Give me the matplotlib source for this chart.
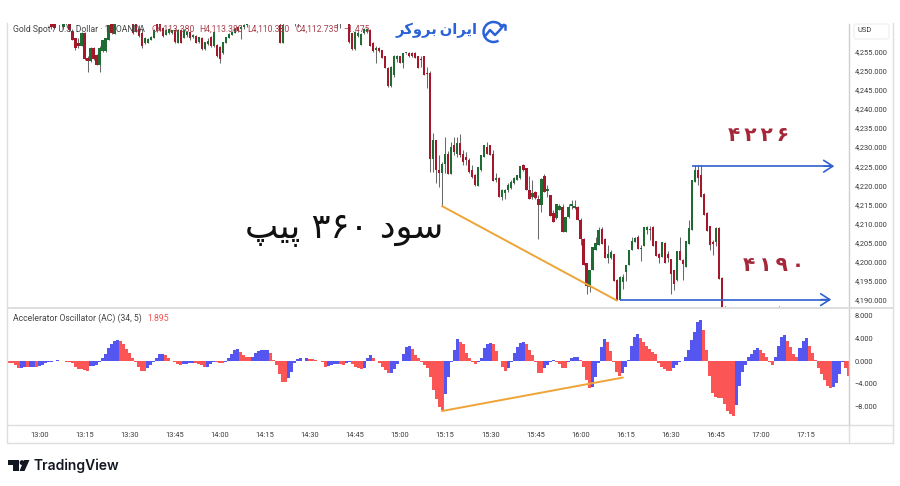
import numpy as np
import matplotlib
matplotlib.use("Agg")
import matplotlib.pyplot as plt
from matplotlib.patches import Polygon, Circle, Arc, FancyBboxPatch

W, H = 900, 486

# candles, one a minute from 13:04, prices are 4000 + value
start_minute = 4
opens = [264,264,264.5,264,261.5,263,264,260.5,258.5,257.3,
         256.4,260,253.5,252.5,255.9,254.2,251.6,255.1,255.1,258.1,
         264,259.7,264,264.5,264,264.5,264,263,263,261,
         260,257.2,257.3,258.2,258.6,263,263,261.2,259.5,260,
         260,260.7,257.3,260.8,258.6,259.5,260.2,259,259.2,257.5,
         258.5,255.7,257,259,256.4,256.8,256.3,254.6,257.3,258.6,
         259.5,260,261.6,261,261.5,262,264,264.5,264,264.5,
         264,264.5,264,264.5,264,264.5,262.1,257.3,264,264.5,
         264,264,264,264.5,264,264.5,264,264.5,264,264.5,
         264,264.5,264,264.5,264,264,264,264,264.5,263,
         259.9,255.7,259.2,256.9,260,260.2,260.8,257.3,255.6,255.9,
         255.5,253.8,250.7,246,249,253.2,253.8,252.1,254.6,254.8,
         254.8,254.8,253.8,253,253.8,249.5,249.4,227,231.8,224,
         223.1,225.7,228.3,223,230.5,228.3,231.2,228.3,227.5,226.6,
         224,222.6,219.8,224,227.5,230.1,230.5,228.3,221.5,221.8,
         216.8,218,218.7,219.2,220.5,221.5,221.8,225.2,224.4,218.7,
         217,218.2,216.5,214.8,222.4,218.5,217.4,212.6,211.3,213.5,
         214.3,207.8,211.7,214.5,214,214.3,211,206,199.5,193.3,
         197.7,203,204.3,208.4,206,201,201,201.9,195.2,189.9,
         194.5,197.3,199,203,205,206.5,203.4,204,208.3,208.5,
         209,205.4,202,201.2,204.9,202,200.6,197.7,195.1,202.8,
         200.3,198.6,204.7,208.2,220.9,224,222.6,217.8,212.8,209.2,
         205,205.2,208.9,195.8]
highs = [265,265,265,265,264,264,264.5,261,258.6,258.5,
         260.2,260.2,254,256.2,256.2,254.5,256.4,258.2,258.6,262.1,
         265,264,265,265,265,265,265,263.5,263.5,262,
         261,259,258.6,259.2,260.9,264,264,261.5,261,261.3,
         260.8,261,261,261,261,260.4,260.4,259.6,259.3,259,
         258.8,257.7,258.6,259.1,260.4,257,256.5,257.7,259,259.9,
         260.4,261.2,261.7,262.1,262.4,263,265,265,265,265,
         265,265,265,265,265,265,263,263,265,265,
         265,264.5,264.5,265,265,265,265,265,265,265,
         265,265,265,265,265,264.5,264.5,265,265,264,
         260,260.4,260.4,260,261.2,261.2,261,257.5,256.4,256.2,
         255.6,254,251,251.2,254.2,254.2,254,254.8,254.8,254.9,
         254.9,254.9,254,253.8,254,251.1,250,233.6,232,227.9,
         226,232.7,229,231.4,232.7,232.7,233.4,229.2,228.8,227.2,
         225.2,223,224.9,228,230.5,231.4,230.5,229.3,223.1,222.2,
         219.1,219.1,220.5,221.3,222.2,222.8,225.1,225.7,224.4,222.5,
         221.3,218.5,217.5,221.8,222.9,220,217.5,213.5,215.2,215.2,
         215.2,211.7,215,216.1,216,214.5,211.3,206.2,199.5,197.7,
         203.8,206.5,209.1,209.1,206.2,204.3,203.1,202,195.3,196.2,
         196.8,199,203,206.5,206.5,207,204.3,209.1,209.3,209.2,
         209.2,205.5,202.1,205.2,205,202.8,200.6,197.7,202.8,206.5,
         200.7,205.4,210.8,221.4,225.3,225.3,225.3,218,213,209.3,
         205.6,209,209,196]
lows = [261,261,263,263.5,261,262,260.5,258,255.5,256,
        256.4,252.8,249.7,252.4,252.8,251.5,249.7,255,255,258,
        259.8,259.6,263,263,263,263,263,259.8,260.2,259,
        255.9,257,257.2,258,258.5,260.2,260.7,259,259.4,259.8,
        259.8,257.3,257.2,257.2,258.5,259,258.1,258.5,257.2,257.4,
        255.6,255.6,256.8,256.3,256.3,253.7,252.2,254.5,257.2,258.5,
        259.4,259.9,260.3,258.3,261,261.4,263,263,263,263,
        263,263,263,263,263,263,257.2,257.2,263,263,
        263,261.7,261.5,263,263,263,263,263,263,263,
        263,263,263,263,263,261.2,261.2,263,263,257.3,
        255.5,255.5,259,256.8,259.8,260,256.4,255,252,255,
        253.3,250.7,245.9,245.9,248.5,252.4,252,250.7,254.5,253.7,
        253.7,253.3,250.7,251,249,245.4,223.5,223.5,220.6,219.6,
        214.5,223.1,222.9,222.9,228,227.5,227.5,225.3,225.3,223.1,
        222,219.7,219.7,223.8,227.4,228.2,227.9,221.1,220.9,216.8,
        216.1,216.4,218.2,218.9,220.2,221.3,221.7,223.8,218.7,216.4,
        216.5,216.5,206,213,218.2,217,211.9,210.4,211.2,213.4,
        207.8,207.8,211.5,213.8,213.9,210.8,204.3,199,191.6,192,
        197.7,202.9,204.2,204.7,200.8,199.5,200.7,194.9,189.8,189.8,
        192.9,195,199,202.9,205,203.4,200.2,204,207.3,205.6,
        204,201.5,199.6,201.2,199.6,199.9,191.4,192.6,195,200.3,
        195.1,198.5,204.7,208.2,220.9,220.1,216.8,212.1,208,203,
        201.6,204,195.5,186]
closes = [261.5,261.2,264,264.5,263,263.5,260.8,258.1,256,256.4,
          260,253,252.5,255.9,253,251.6,256.1,258.1,258.5,262,
          259.9,263.5,264.5,264,264.5,264,264.5,260,260.4,259.2,
          256.5,258.6,258.4,259,260.8,260.4,260.8,259.1,260.7,261,
          260.6,257.5,260.8,257.4,260.7,260.2,258.5,259.3,257.3,258.9,
          255.7,257.6,257.9,256.4,260.2,253.8,253,257.6,259,259.8,
          260.2,261,260.4,261.4,262,262.6,264.5,264,264.5,264,
          264.5,264,264.5,264,264.5,264,257.4,262,264.5,264,
          264.5,263,263.2,264,264.5,264,264.5,264,264.5,264,
          264.5,264,264.5,264,264.5,263,263,264.5,264,257.5,
          255.7,260.2,260,259.8,261,260.9,256.5,255.3,256,255.1,
          253.4,250.8,246,251,254,253.8,252.1,254.7,254.7,253.8,
          254,253.4,250.8,252.8,249,249.2,227,231.8,224,223.1,
          225.7,228.3,222.9,230.1,228.8,231,227.9,226.1,226.6,223.5,
          222.2,220,224.8,227.9,230.5,228.3,228,221.2,221.8,216.8,
          218.7,218.8,220,220.9,221.8,222.6,225,224,218.8,216.5,
          218,216.6,214.8,221.7,218.3,219,211.9,210.4,215.1,214.5,
          207.8,211.7,214.3,215,214.5,210.8,205.8,199,193.5,197.7,
          203.7,204.9,208.2,204.7,200.8,202,202.5,194.9,189.9,196,
          196,199,203,205.4,206.2,203.4,203.5,209,209,208.2,
          204,201.5,201,205.1,199.7,201,196.7,194,202.8,200.3,
          199.4,205.4,208.7,221.3,224,222,216.8,212.1,208,204.3,
          204.5,208.9,195.5,186]

# wick tips of later candles, just peeking in at the bottom
stub_minutes = [228, 246]
stub_highs = [188.4, 188.4]

# accelerator oscillator, one a minute from 12:50
ac_start = -10
ac_values = [-0.29,-0.41,-0.70,-1.17,-1.15,-1.05,-1.11,-1.05,-0.99,-1.11,
             -0.93,-0.70,-0.41,-0.23,-0.12,-0.06,0.23,0.06,-0.06,-0.12,
             -0.13,-0.41,-0.99,-1.40,-1.46,-1.57,-1.81,-0.93,-0.87,-0.70,
             -0.12,0.58,1.28,2.21,2.97,3.55,3.61,3.55,2.91,2.10,
             1.34,0.47,-0.23,-0.99,-1.75,-1.81,-1.28,-0.70,-0.12,0.58,
             1.17,1.22,1.05,0.58,0.06,-0.23,-0.58,-0.76,-0.47,-0.44,
             -0.41,-0.29,-0.33,-0.58,-0.76,-1.05,-0.99,-0.58,-0.12,-0.23,
             -0.35,-0.36,-0.12,0.47,1.17,1.92,2.10,1.52,1.05,0.76,
             0.64,0.76,1.34,1.75,1.92,1.95,1.98,1.46,0.17,-0.70,
             -2.33,-3.61,-3.67,-3.03,-1.86,-0.41,0.35,0.47,0.06,0.47,
             0.35,0.30,0.17,0.0,-0.23,-0.99,-0.82,-0.76,-0.58,-0.50,
             -0.58,-0.62,-0.41,-0.23,-0.58,-0.99,-1.28,-1.40,-1.28,0.47,
             1.05,0.58,0.0,-0.41,-0.99,-1.57,-2.16,-2.10,-1.40,-0.58,
             0.0,1.17,2.51,2.68,2.04,1.05,0.47,-0.12,-0.70,-1.28,
             -2.86,-5.07,-6.70,-7.98,-8.57,-5.83,-2.74,-0.12,1.92,3.79,
             3.38,2.91,1.34,0.58,-0.12,-0.47,-0.23,0.47,2.21,2.91,
             3.21,2.91,1.75,0.0,-0.99,-1.75,-1.28,-0.12,1.34,2.51,
             3.09,3.38,2.91,1.92,1.05,-0.12,-2.04,-2.07,-1.28,-0.70,
             -0.23,0.17,-0.12,-0.58,-1.17,-1.20,-0.12,0.47,0.64,0.76,
             0.17,-0.99,-3.32,-4.78,-4.49,-2.74,-0.41,2.51,3.85,3.26,
             1.75,-0.12,-1.86,-2.62,-2.16,-1.11,0.17,2.68,4.25,4.72,
             3.96,3.26,2.68,2.10,1.63,1.22,-0.41,-0.99,-1.40,-1.69,
             -1.75,-1.17,-0.70,-0.12,-0.05,0.76,1.92,3.67,5.13,6.88,
             7.17,5.42,1.92,-2.62,-5.65,-6.24,-6.41,-6.53,-7.58,-8.74,
             -9.32,-9.56,-7.69,-4.37,-1.86,-0.70,0.64,1.22,1.92,2.33,
             1.92,1.34,0.76,-0.23,-0.70,0.64,2.68,4.25,4.55,3.55,
             2.51,1.17,0.76,2.21,3.50,3.96,2.68,1.34,0.17,-1.17,
             -2.33,-3.32,-4.37,-4.78,-4.49,-3.90,-2.33,-0.12,-1.28,-2.62]

price_ticks = [4190,4195,4200,4205,4210,4215,4220,4225,4230,4235,4240,4245,4250,4255]
ac_ticks = [8,4,0,-4,-8]
time_ticks = list(range(0, 256, 15))
time_labels = ["13:00","13:15","13:30","13:45","14:00","14:15","14:30","14:45","15:00",
               "15:15","15:30","15:45","16:00","16:15","16:30","16:45","17:00","17:15"]

# drawn levels and trend lines (minute, value)
price_trend = ([134, 192], [4214.5, 4189.8])
ac_trend = ([134, 194], [-8.74, -2.9])
top_level = ([217, 264], [4225, 4225])
low_level = ([193, 263], [4190, 4190])

RED = "#a5182c"
GREEN = "#1e6b33"
WICK = "#6a6a6a"
BLUE = "#2f5fd0"
ORANGE = "#eea436"
GRID = "#dedede"
LABEL = "#3a3a3a"
FONT = "Roboto"
TICK_SIZE = 5.4


def px_axes(fig, x0, y0, x1, y1):
    return fig.add_axes([x0 / W, 1 - y1 / H, (x1 - x0) / W, (y1 - y0) / H])


fig = plt.figure(figsize=(W / 100, H / 100), dpi=100, facecolor="white")
ax = px_axes(fig, 8, 24, 849, 308)
ax2 = px_axes(fig, 8, 308, 849, 425)

# price panel
o = 4000 + np.array(opens)
h = 4000 + np.array(highs)
l = 4000 + np.array(lows)
c = 4000 + np.array(closes)
x = start_minute + np.arange(len(o))
cols = [GREEN if cc >= oo else RED for oo, cc in zip(o, c)]
ax.vlines(x, l, h, color=WICK, lw=0.75, zorder=2)
ax.bar(x, np.maximum(np.abs(c - o), 0.25), bottom=np.minimum(o, c), width=0.72, color=cols, linewidth=0, zorder=3)
ax.vlines(stub_minutes, 4180, 4000 + np.array(stub_highs), color="#444444", lw=0.7, zorder=2)

ax.set_xlim(-10.45, 269.3)
ax.set_ylim(4187.8, 4262.3)
ax.yaxis.tick_right()
ax.set_yticks(price_ticks)
ax.set_yticklabels([f"{t:,.3f}" for t in price_ticks], fontsize=TICK_SIZE, color=LABEL, family=FONT)
ax.tick_params(axis="y", length=0, pad=4.2)
ax.set_xticks([])
for s in ["top", "left", "bottom"]:
    ax.spines[s].set_visible(False)
ax.spines["right"].set_color("#cfcfcf")
ax.spines["right"].set_linewidth(1.0)

ax.plot(*price_trend, color=ORANGE, lw=1.4, zorder=4)
ax.plot(*top_level, color=BLUE, lw=1.2, zorder=4, solid_capstyle="butt")
ax.plot(*low_level, color=BLUE, lw=1.2, zorder=4, solid_capstyle="butt")
for lvl in (top_level, low_level):
    ax.annotate("", xy=(lvl[0][1] + 0.4, lvl[1][1]), xytext=(lvl[0][1] - 3, lvl[1][1]),
                arrowprops=dict(arrowstyle="->,head_length=0.65,head_width=0.42", color=BLUE, lw=1.2,
                                shrinkA=0, shrinkB=0), zorder=4)

# oscillator panel
ac = np.array(ac_values)
ac_x = ac_start + np.arange(len(ac))
ac_cols = ["#5555f0" if ac[i] > ac[i - 1] else "#fb5555" for i in range(len(ac))]
ac_cols[0] = "#fb5555"
ax2.bar(ac_x, ac, width=1.0, color=ac_cols, linewidth=0, zorder=2)
ax2.plot(*ac_trend, color=ORANGE, lw=1.4, zorder=4)
ax2.set_xlim(-10.45, 269.3)
ax2.set_ylim(-11.19, 9.27)
ax2.yaxis.tick_right()
ax2.set_yticks(ac_ticks)
ax2.set_yticklabels([f"{t:.3f}".replace("-", "\u2212") for t in ac_ticks], fontsize=TICK_SIZE, color=LABEL, family=FONT)
ax2.set_xticks(time_ticks)
ax2.set_xticklabels(time_labels, fontsize=TICK_SIZE, color=LABEL, family=FONT)
ax2.tick_params(axis="both", length=0)
ax2.tick_params(axis="y", pad=4.2)
ax2.tick_params(axis="x", pad=5)
for s in ["left", "top"]:
    ax2.spines[s].set_visible(False)
ax2.spines["right"].set_color("#cfcfcf")
ax2.spines["right"].set_linewidth(1.0)
ax2.spines["bottom"].set_color(GRID)
ax2.spines["bottom"].set_linewidth(1.0)

# everything that sits on top of the panels, placed in picture pixels
top = fig.add_axes([0, 0, 1, 1], facecolor="none")
top.set_xlim(0, W)
top.set_ylim(H, 0)
top.axis("off")

top.plot([8, 893], [307.5, 307.5], color=GRID, lw=1.4)
for xs, ys in [([8, 893], [443, 443]), ([849, 893], [425, 425]), ([7, 7], [23, 443]),
               ([893, 893], [23, 443]), ([849, 849], [425, 443])]:
    top.plot(xs, ys, color=GRID, lw=1.0)
top.add_patch(FancyBboxPatch((854, 24), 35, 15, boxstyle="round,pad=0,rounding_size=2",
                             facecolor="white", edgecolor="#eeeeee", lw=0.8))

title_kw = dict(fontsize=6.2, family=FONT, va="center", zorder=6)
top.text(13, 29, "Gold Spot / U.S. Dollar \u00b7 1 \u00b7 OANDA", color="#444444", **title_kw)
top.text(152, 29, "O4,113.380", color="#a8404c", **title_kw)
top.text(199, 29, "H4,113.380", color="#a8404c", **title_kw)
top.text(247, 29, "L4,110.380", color="#a8404c", **title_kw)
top.text(295, 29, "C4,112.735", color="#a8404c", **title_kw)
top.text(343, 29, "\u22121.475", color="#a8404c", **title_kw)
top.text(865, 31, "USD", fontsize=TICK_SIZE, color=LABEL, family=FONT, va="center", ha="center")

top.text(13, 318.5, "Accelerator Oscillator (AC) (34, 5)", fontsize=6.2, color="#444444", family=FONT, va="center")
top.text(147, 318.5, "1.895", fontsize=6.2, color="#f05050", family=FONT, va="center")

# Persian text, glyphs in visual order since matplotlib does not shape it
top.text(344.5, 230, "\ufb57\ufbff\ufb58 \u06f3\u06f6\u06f0 \ufea9\ufeee\ufeb3", fontsize=25.5, color="#111111",
         family="DejaVu Sans", ha="center", va="center")
top.text(759, 135, "\u06f4\u2009\u06f2\u2009\u06f2\u2009\u06f6", fontsize=14.5, color="#a5283a",
         family="DejaVu Sans", weight="bold", ha="center", va="center")
top.text(774, 265, "\u06f4\u2009\u06f1\u2009\u06f9\u2009\u06f0", fontsize=14.5, color="#a5283a",
         family="DejaVu Sans", weight="bold", ha="center", va="center")
top.text(437, 30, "\ufeae\ufb90\ufeed\ufeae\ufe91\u2009\ufee5\ufe8d\ufeae\ufbfe\ufe8d", fontsize=10.6,
         color="#2a62d8", family="DejaVu Sans", weight="bold", ha="center", va="center")

# broker logo mark
top.add_patch(Arc((493.5, 32), 20, 20, theta1=60, theta2=330, color="#2a62d8", lw=1.8))
top.plot([486, 490, 495, 499, 504], [35, 30, 35, 31, 25], color="#2a62d8", lw=1.8)
top.plot([500, 504.5, 504.5], [25, 25, 29], color="#2a62d8", lw=1.8)

# TradingView mark and name
top.add_patch(Polygon([(8, 460), (19, 460), (19, 471), (13, 471), (13, 465), (8, 465)], color="#131722", lw=0))
top.add_patch(Circle((22, 462.6), 2.4, color="#131722", lw=0))
top.add_patch(Polygon([(24, 460), (29.5, 460), (24.5, 471), (19.5, 471)], color="#131722", lw=0))
top.text(34, 465.5, "TradingView", fontsize=10, color="#131722", family="Inter", weight="semibold", va="center")

fig.savefig("out.png", dpi=100, facecolor="white")
